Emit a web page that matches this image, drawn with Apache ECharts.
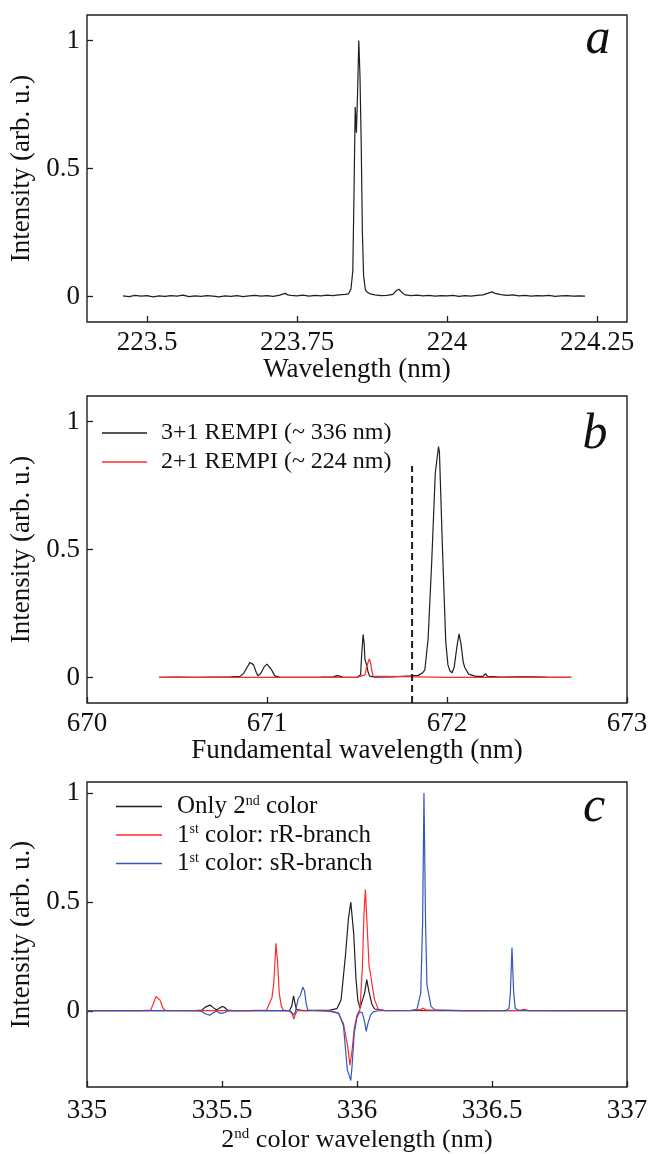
<!DOCTYPE html>
<html>
<head>
<meta charset="utf-8">
<script src="https://cdn.jsdelivr.net/npm/echarts@6.0.0/dist/echarts.min.js"></script>
<style>
  html, body { margin: 0; background: #fff; }
  #chart { width: 656px; height: 1154px; }
</style>
</head>
<body>
<div id="chart"></div>
<script>
// Three stacked REMPI spectra (a, b, c) sharing one ECharts instance.
// Values; [wavelength nm, intensity] pairs.

const specA = [
  [223.46, 0.002], [223.47, -0.001], [223.48, 0.004], [223.49, 0.001], [223.50, 0.003],
  [223.51, -0.002], [223.52, 0.002], [223.53, 0.000], [223.54, 0.003], [223.55, 0.001],
  [223.56, 0.005], [223.57, -0.001], [223.58, 0.002], [223.59, 0.000], [223.60, 0.003],
  [223.61, 0.001], [223.62, -0.002], [223.63, 0.002], [223.64, 0.000], [223.65, 0.003],
  [223.66, -0.001], [223.67, 0.002], [223.68, 0.004], [223.69, 0.001], [223.70, 0.003],
  [223.71, 0.000], [223.72, 0.004], [223.73, 0.012], [223.735, 0.006], [223.74, 0.004],
  [223.75, 0.002], [223.76, 0.005], [223.77, 0.001], [223.78, 0.004], [223.79, 0.002],
  [223.80, 0.005], [223.81, 0.003], [223.82, 0.006], [223.83, 0.008], [223.836, 0.010],
  [223.840, 0.030], [223.843, 0.100], [223.845, 0.400], [223.847, 0.740], [223.849, 0.640],
  [223.851, 0.800], [223.853, 1.000], [223.855, 0.860], [223.857, 0.600], [223.859, 0.250],
  [223.861, 0.080], [223.864, 0.025], [223.868, 0.015], [223.872, 0.010], [223.88, 0.006],
  [223.89, 0.003], [223.90, 0.004], [223.91, 0.008], [223.915, 0.022], [223.92, 0.028],
  [223.925, 0.015], [223.93, 0.006], [223.94, 0.003], [223.95, 0.005], [223.96, 0.002],
  [223.97, 0.004], [223.98, 0.001], [223.99, 0.003], [224.00, 0.002], [224.01, 0.004],
  [224.02, 0.000], [224.03, 0.003], [224.04, 0.001], [224.05, 0.004], [224.06, 0.006],
  [224.07, 0.014], [224.075, 0.018], [224.08, 0.012], [224.09, 0.007], [224.10, 0.004],
  [224.11, 0.006], [224.12, 0.002], [224.13, 0.004], [224.14, 0.001], [224.15, 0.003],
  [224.16, 0.002], [224.17, 0.004], [224.18, 0.000], [224.19, 0.002], [224.20, 0.003],
  [224.21, 0.001], [224.22, 0.002], [224.23, 0.001]
];

const rempi31 = [
  [670.40, 0.000], [670.50, 0.001], [670.60, 0.000], [670.70, 0.001], [670.80, 0.002],
  [670.85, 0.004], [670.87, 0.015], [670.89, 0.040], [670.905, 0.058], [670.914, 0.063],
  [670.925, 0.050], [670.94, 0.020], [670.95, 0.006], [670.965, 0.015], [670.985, 0.042],
  [671.00, 0.052], [671.01, 0.048], [671.025, 0.030], [671.043, 0.006], [671.07, 0.001],
  [671.20, 0.000], [671.30, 0.001], [671.37, 0.002], [671.386, 0.007], [671.40, 0.006],
  [671.42, 0.001], [671.50, 0.000], [671.520, 0.010], [671.527, 0.100], [671.534, 0.168],
  [671.540, 0.130], [671.544, 0.070], [671.553, 0.050], [671.562, 0.020], [671.570, 0.005],
  [671.60, 0.001], [671.70, 0.002], [671.75, 0.004], [671.80, 0.006], [671.84, 0.008],
  [671.865, 0.018], [671.877, 0.030], [671.895, 0.150], [671.915, 0.450], [671.935, 0.800],
  [671.953, 0.902], [671.958, 0.880], [671.975, 0.500], [671.993, 0.140], [672.005, 0.050],
  [672.016, 0.026], [672.028, 0.018], [672.040, 0.040], [672.055, 0.120], [672.067, 0.170],
  [672.078, 0.130], [672.090, 0.060], [672.098, 0.040], [672.12, 0.013], [672.16, 0.004],
  [672.20, 0.004], [672.214, 0.015], [672.225, 0.004], [672.30, 0.001], [672.40, 0.002],
  [672.465, 0.002], [672.47, 0.007], [672.475, 0.002], [672.55, 0.001], [672.69, 0.000]
];

const rempi21 = [
  [670.40, 0.000], [671.00, 0.000], [671.50, 0.000], [671.544, 0.010], [671.553, 0.040],
  [671.568, 0.072], [671.575, 0.060], [671.581, 0.030], [671.590, 0.005], [671.60, 0.001],
  [672.00, 0.000], [672.69, 0.000]
];

// dashed marker in panel b: [x, y] of its two ends
const dashB = [[671.806, -0.1], [671.806, 0.826]];

const only2nd = [
  [335.00, 0.000], [335.20, 0.000], [335.40, 0.001], [335.425, 0.003], [335.44, 0.018],
  [335.455, 0.026], [335.47, 0.012], [335.48, 0.003], [335.49, 0.012], [335.50, 0.020],
  [335.51, 0.015], [335.52, 0.003], [335.55, 0.000], [335.70, 0.001], [335.75, 0.002],
  [335.758, 0.020], [335.765, 0.068], [335.771, 0.030], [335.776, 0.005], [335.80, 0.001],
  [335.90, 0.003], [335.926, 0.010], [335.941, 0.050], [335.957, 0.250], [335.968, 0.420],
  [335.977, 0.499], [335.988, 0.350], [335.996, 0.150], [336.003, 0.050], [336.011, 0.012],
  [336.018, 0.020], [336.028, 0.080], [336.036, 0.143], [336.044, 0.090], [336.055, 0.030],
  [336.065, 0.008], [336.10, 0.002], [336.30, 0.000], [336.60, 0.001], [337.00, 0.000]
];

const rBranch = [
  [335.00, 0.000], [335.20, 0.001], [335.236, 0.003], [335.245, 0.030], [335.255, 0.065],
  [335.262, 0.070], [335.270, 0.050], [335.282, 0.010], [335.29, 0.002], [335.40, 0.001],
  [335.60, 0.001], [335.665, 0.003], [335.685, 0.060], [335.692, 0.130], [335.700, 0.310],
  [335.706, 0.220], [335.712, 0.080], [335.720, 0.020], [335.727, 0.003], [335.75, 0.000],
  [335.760, -0.015], [335.766, -0.038], [335.772, -0.015], [335.78, 0.000], [335.90, 0.000],
  [335.93, -0.010], [335.95, -0.060], [335.965, -0.160], [335.974, -0.250], [335.982, -0.180],
  [335.99, -0.080], [336.00, -0.020], [336.011, 0.005], [336.020, 0.200], [336.026, 0.450],
  [336.031, 0.556], [336.039, 0.350], [336.045, 0.200], [336.050, 0.170], [336.057, 0.110],
  [336.065, 0.050], [336.080, 0.005], [336.10, 0.001], [336.20, 0.002], [336.235, 0.005],
  [336.245, 0.012], [336.255, 0.004], [336.40, 0.001], [336.60, 0.002], [336.62, 0.006],
  [336.635, 0.001], [337.00, 0.000]
];

const sBranch = [
  [335.00, 0.000], [335.10, 0.001], [335.105, 0.005], [335.11, 0.001], [335.40, 0.000],
  [335.425, -0.003], [335.44, -0.015], [335.455, -0.020], [335.47, -0.008], [335.48, -0.002],
  [335.49, -0.010], [335.50, -0.012], [335.51, -0.008], [335.52, -0.001], [335.60, 0.000],
  [335.70, 0.001], [335.755, -0.002], [335.765, -0.020], [335.772, -0.005], [335.776, 0.020],
  [335.782, 0.055], [335.790, 0.070], [335.796, 0.095], [335.800, 0.108], [335.806, 0.090],
  [335.812, 0.030], [335.818, 0.003], [335.85, 0.000], [335.90, -0.003], [335.933, -0.012],
  [335.95, -0.070], [335.964, -0.270], [335.972, -0.300], [335.977, -0.320], [335.982, -0.250],
  [335.99, -0.100], [336.00, -0.030], [336.01, -0.005], [336.02, -0.010], [336.028, -0.050],
  [336.034, -0.095], [336.040, -0.060], [336.05, -0.020], [336.06, -0.005], [336.08, 0.000],
  [336.20, 0.001], [336.222, 0.006], [336.236, 0.080], [336.243, 0.400], [336.248, 1.000],
  [336.254, 0.400], [336.259, 0.120], [336.274, 0.020], [336.29, 0.003], [336.40, 0.000],
  [336.55, 0.001], [336.563, 0.010], [336.568, 0.080], [336.574, 0.290], [336.580, 0.090],
  [336.586, 0.010], [336.60, 0.002], [336.80, 0.000], [337.00, 0.000]
];

const ticksA = [223.5, 223.75, 224, 224.25];
const ticksY = [0, 0.5, 1];

const SERIF = "'Liberation Serif', 'Times New Roman', serif";
const INK = "#1f1f1f";
const RED = "#ff2a2a";
const BLUE = "#3456c0";

const chart = echarts.init(document.getElementById("chart"), null, {renderer: "canvas"});

const grids = [
  {left: 87, width: 540, top: 15, height: 307},
  {left: 87, width: 540, top: 396, height: 307},
  {left: 87, width: 540, top: 782, height: 305},
].map(g => ({...g, show: true, borderColor: INK, borderWidth: 1.4, backgroundColor: "transparent"}));

const axisBase = {
  axisLine: {show: false, onZero: false},
  axisTick: {inside: true, length: 6, lineStyle: {color: INK, width: 1.3}},
  axisLabel: {color: "#111", fontFamily: SERIF, fontSize: 27, margin: 7},
  splitLine: {show: false},
  nameLocation: "middle",
  nameTextStyle: {color: "#111", fontFamily: SERIF, fontSize: 27},
};

function xAx(gridIndex, min, max, ticks, name, gap, rich) {
  return {
    ...axisBase, type: "value", gridIndex, min, max, name, nameGap: gap,
    nameTextStyle: {...axisBase.nameTextStyle, rich},
    axisTick: {...axisBase.axisTick, customValues: ticks},
    axisLabel: {...axisBase.axisLabel, customValues: ticks},
  };
}

function yAx(gridIndex, min, max) {
  return {
    ...axisBase, type: "value", gridIndex, min, max, name: "Intensity (arb. u.)", nameGap: 50,
    axisTick: {...axisBase.axisTick, customValues: ticksY},
    axisLabel: {...axisBase.axisLabel, customValues: ticksY},
  };
}

const supRich = {
  n: {fontFamily: SERIF, fontSize: 26, color: "#111"},
  sup: {fontFamily: SERIF, fontSize: 15, color: "#111", verticalAlign: "top", padding: [0, 0, 10, 0]},
};
const legendRich = {
  n: {fontFamily: SERIF, fontSize: 25, color: "#111"},
  sup: {fontFamily: SERIF, fontSize: 14, color: "#111", verticalAlign: "top", padding: [0, 0, 10, 0]},
};
const withSup = s => "{n|" + s.replace(/(\d)(st|nd)/, "$1}{sup|$2}{n|") + "}";

function line(name, data, color, xi, width) {
  return {
    name, type: "line", data, xAxisIndex: xi, yAxisIndex: xi,
    symbol: "none", showSymbol: false, silent: true,
    lineStyle: {color, width: width || 1.2}, itemStyle: {color},
  };
}

function letter(text, x, y) {
  return {
    type: "text", x, y, silent: true,
    style: {text, font: "italic 50px " + SERIF, fill: "#111", align: "center", verticalAlign: "middle"},
  };
}

const option = {
  animation: false,
  grid: grids,
  xAxis: [
    xAx(0, 223.4, 224.3, ticksA, "Wavelength (nm)", 31),
    {...xAx(1, 670, 673, null, "Fundamental wavelength (nm)", 31), interval: 1,
      axisTick: {...axisBase.axisTick}, axisLabel: {...axisBase.axisLabel}},
    {...xAx(2, 335, 337, null, "{n|2}{sup|nd}{n| color wavelength (nm)}", 40, supRich), interval: 0.5,
      axisTick: {...axisBase.axisTick}, axisLabel: {...axisBase.axisLabel, margin: 10}},
  ],
  yAxis: [yAx(0, -0.1, 1.1), yAx(1, -0.1, 1.1), yAx(2, -0.35, 1.05)],
  legend: [
    {
      data: ["3+1 REMPI (~ 336 nm)", "2+1 REMPI (~ 224 nm)"],
      orient: "vertical", left: 102, top: 421, padding: 0, itemWidth: 45, itemHeight: 1.5, itemGap: 5,
      icon: "rect", selectedMode: false,
      textStyle: {fontFamily: SERIF, fontSize: 24, color: "#111", padding: [0, 0, 0, 9]},
    },
    {
      data: ["Only 2nd color", "1st color: rR-branch", "1st color: sR-branch"],
      orient: "vertical", left: 116, top: 794, padding: 0, itemWidth: 46, itemHeight: 1.5, itemGap: 3.5,
      icon: "rect", selectedMode: false,
      formatter: withSup,
      textStyle: {fontFamily: SERIF, fontSize: 25, color: "#111", padding: [0, 0, 0, 10], rich: legendRich},
    },
  ],
  series: [
    line("a", specA, INK, 0),
    line("3+1 REMPI (~ 336 nm)", rempi31, INK, 1),
    line("2+1 REMPI (~ 224 nm)", rempi21, RED, 1),
    {...line("dash", dashB, INK, 1, 2), lineStyle: {color: INK, width: 2, type: [7, 4]}},
    line("Only 2nd color", only2nd, INK, 2),
    line("1st color: rR-branch", rBranch, RED, 2),
    line("1st color: sR-branch", sBranch, BLUE, 2),
  ],
  graphic: [letter("a", 598, 40), letter("b", 595, 435), letter("c", 594, 808)],
};

chart.setOption(option);
</script>
</body>
</html>
